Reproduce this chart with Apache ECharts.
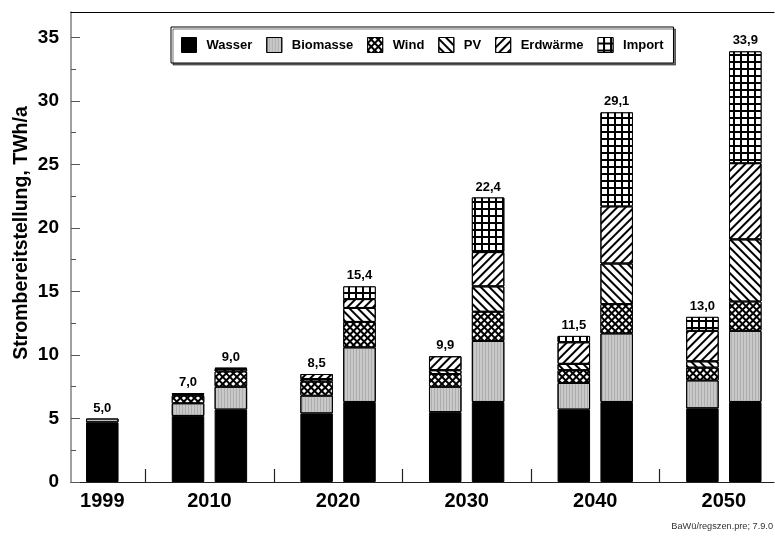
<!DOCTYPE html>
<html>
<head>
<meta charset="utf-8">
<script src="https://cdn.jsdelivr.net/npm/echarts@6/dist/echarts.min.js"></script>
<style>
  html, body { margin: 0; padding: 0; background: #fff; }
  #chart { width: 775px; height: 536px; }
</style>
</head>
<body>
<div id="chart"></div>
<script>
// Strombereitstellung nach Energieträgern, TWh/a
const years = ['1999', '2010', '2020', '2030', '2040', '2050'];
// slot of each bar on the x scale (1999 alone, then two bars per year)
const slots = [0, 2, 3, 5, 6, 8, 9, 11, 12, 14, 15];
const wasser    = [4.7, 5.2, 5.7, 5.4, 6.3, 5.5, 6.3, 5.7, 6.3, 5.8, 6.3];
const biomasse  = [0.3, 1.0, 1.8, 1.4, 4.3, 2.0, 4.8, 2.1, 5.4, 2.2, 5.6];
const wind      = [0,   0.6, 1.2, 1.1, 2.0, 1.0, 2.3, 1.0, 2.3, 1.0, 2.3];
const pv        = [0,   0.1, 0.2, 0.2, 1.1, 0.3, 2.0, 0.5, 3.2, 0.5, 4.9];
const erdwaerme = [0,   0.1, 0.1, 0.4, 0.7, 1.1, 2.7, 1.7, 4.5, 2.4, 6.0];
const importe   = [0,   0,   0,   0,   1.0, 0,   4.3, 0.5, 7.4, 1.1, 8.8];
// year label positions and group separator ticks on the x scale
const yearPos = [0, 2.5, 5.5, 8.5, 11.5, 14.5];
const groupTicks = [1, 4, 7, 10, 13];
const yMajor = [0, 5, 10, 15, 20, 25, 30, 35];
const yMinor = [2.5, 7.5, 12.5, 17.5, 22.5, 27.5, 32.5];

const FONT = '"Liberation Sans", Arial, sans-serif';
const SLOT_COUNT = 16;
const Y_MAX = 37;

// plot frame (axes) and the bar band grid share the same vertical extent
const frame = { left: 71, right: 1, top: 12, bottom: 54 };
const xMin = -0.73, xMax = 15.67;
const slotPx = (775 - frame.left - frame.right) / (xMax - xMin);
const bandLeft = frame.left + (-0.5 - xMin) * slotPx;
const bandRight = 775 - (bandLeft + SLOT_COUNT * slotPx);

const layers = [
  { name: 'Wasser', values: wasser, color: '#000', decal: null },
  { name: 'Biomasse', values: biomasse, color: '#c9c9c9',
    decal: { symbol: 'rect', color: 'rgba(140,140,140,0.45)', dashArrayX: [1, 0], dashArrayY: [1, 1.5], rotation: Math.PI / 2, symbolSize: 1 } },
  { name: 'Wind', values: wind, color: '#000',
    decal: { symbol: 'rect', color: '#fff', dashArrayX: [2.2, 1.4], dashArrayY: [2.2, 1.4], rotation: Math.PI / 4, symbolSize: 1 } },
  { name: 'PV', values: pv, color: '#fff',
    decal: { symbol: 'rect', color: '#000', dashArrayX: [1, 0], dashArrayY: [1.1, 3.4], rotation: Math.PI / 4, symbolSize: 1 } },
  { name: 'Erdwärme', values: erdwaerme, color: '#fff',
    decal: { symbol: 'rect', color: '#000', dashArrayX: [1, 0], dashArrayY: [1.1, 3.4], rotation: -Math.PI / 4, symbolSize: 1 } },
  { name: 'Import', values: importe, color: '#000',
    decal: { symbol: 'rect', color: '#fff', dashArrayX: [5, 1.6], dashArrayY: [5, 1.6], rotation: 0, symbolSize: 1 } }
];

const slotNames = Array.from({ length: SLOT_COUNT }, (_, i) => String(i));

// spread one value per bar onto the 16 slots, empty slots stay blank
function toSlots(values) {
  const out = slotNames.map(() => '-');
  slots.forEach((s, i) => { out[s] = values[i] > 0 ? values[i] : '-'; });
  return out;
}

const totals = slots.map((_, i) =>
  Math.round(layers.reduce((s, l) => s + l.values[i], 0) * 10) / 10);

const barSeries = layers.map(l => ({
  name: l.name,
  type: 'bar',
  stack: 'total',
  xAxisIndex: 0,
  yAxisIndex: 0,
  barWidth: 32.5,
  barGap: '-100%',
  itemStyle: Object.assign(
    { color: l.color, borderColor: '#000', borderWidth: 1 },
    l.decal ? { decal: l.decal } : {}
  ),
  emphasis: { disabled: true },
  data: toSlots(l.values)
}));

// invisible bar of the full height that carries the total label
const totalSeries = {
  name: 'Summe',
  type: 'bar',
  xAxisIndex: 0,
  yAxisIndex: 0,
  barWidth: 32.5,
  barGap: '-100%',
  silent: true,
  z: 10,
  itemStyle: { color: 'rgba(0,0,0,0)', borderWidth: 0 },
  label: {
    show: true,
    position: 'top',
    distance: 4,
    fontFamily: FONT,
    fontWeight: 'bold',
    fontSize: 13,
    color: '#000',
    formatter: p => Number(p.value).toFixed(1).replace('.', ',')
  },
  data: toSlots(totals)
};

const chart = echarts.init(document.getElementById('chart'), null, { renderer: 'canvas' });
chart.setOption({
  animation: false,
  backgroundColor: '#fff',
  textStyle: { fontFamily: FONT },
  grid: [
    { left: bandLeft, right: bandRight, top: frame.top, bottom: frame.bottom, containLabel: false },
    { left: frame.left, right: frame.right, top: frame.top, bottom: frame.bottom, containLabel: false }
  ],
  legend: {
    data: layers.map(l => l.name),
    left: 171,
    top: 27,
    orient: 'horizontal',
    icon: 'rect',
    itemWidth: 15,
    itemHeight: 15,
    itemGap: 14,
    padding: [10, 10, 10, 10],
    backgroundColor: '#fff',
    borderColor: '#000',
    borderWidth: 1,
    shadowColor: 'rgba(0,0,0,0.55)',
    shadowOffsetX: 2,
    shadowOffsetY: 2,
    shadowBlur: 0,
    selectedMode: false,
    itemStyle: { borderColor: '#000', borderWidth: 1 },
    textStyle: { fontFamily: FONT, fontWeight: 'bold', fontSize: 13, color: '#000', padding: [0, 0, 0, 5] }
  },
  xAxis: [
    {
      type: 'category',
      gridIndex: 0,
      data: slotNames,
      boundaryGap: true,
      show: false
    },
    {
      type: 'value',
      gridIndex: 1,
      min: xMin,
      max: xMax,
      axisLine: { show: true, onZero: false, lineStyle: { color: '#222', width: 1.2 } },
      axisTick: { show: true, inside: true, length: 13, customValues: groupTicks, lineStyle: { color: '#222', width: 1.2 } },
      axisLabel: {
        show: true,
        customValues: yearPos,
        margin: 9,
        fontFamily: FONT,
        fontWeight: 'bold',
        fontSize: 20,
        color: '#000',
        formatter: v => years[yearPos.indexOf(v)] || ''
      },
      splitLine: { show: false }
    },
    {
      type: 'value',
      gridIndex: 1,
      position: 'top',
      min: xMin,
      max: xMax,
      axisLine: { show: true, onZero: false, lineStyle: { color: '#000', width: 1.2 } },
      axisTick: { show: false },
      axisLabel: { show: false },
      splitLine: { show: false }
    }
  ],
  yAxis: [
    {
      type: 'value',
      gridIndex: 0,
      min: 0,
      max: Y_MAX,
      show: false
    },
    {
      type: 'value',
      gridIndex: 1,
      min: 0,
      max: Y_MAX,
      position: 'left',
      name: 'Strombereitstellung, TWh/a',
      nameLocation: 'middle',
      nameGap: 39,
      nameMoveOverlap: false,
      nameTextStyle: { fontFamily: FONT, fontWeight: 'bold', fontSize: 19.5, color: '#000', padding: [0, 0, 0, 28] },
      axisLine: { show: true, onZero: false, lineStyle: { color: '#888', width: 1.6 } },
      axisTick: { show: true, inside: true, length: 9, customValues: yMajor, lineStyle: { color: '#555', width: 1 } },
      axisLabel: {
        customValues: yMajor,
        margin: 12,
        fontFamily: FONT,
        fontWeight: 'bold',
        fontSize: 19,
        color: '#000'
      },
      splitLine: { show: false }
    },
    {
      type: 'value',
      gridIndex: 1,
      min: 0,
      max: Y_MAX,
      position: 'left',
      axisLine: { show: false, onZero: false },
      axisTick: { show: true, inside: true, length: 5, customValues: yMinor, lineStyle: { color: '#555', width: 1 } },
      axisLabel: { show: false },
      splitLine: { show: false }
    }
  ],
  series: barSeries.concat([totalSeries]),
  graphic: [
    {
      type: 'text',
      right: 2,
      top: 522,
      style: { text: 'BaWü/regszen.pre; 7.9.0', fontFamily: FONT, fontSize: 9.2, fill: '#333' }
    }
  ]
});
</script>
</body>
</html>
